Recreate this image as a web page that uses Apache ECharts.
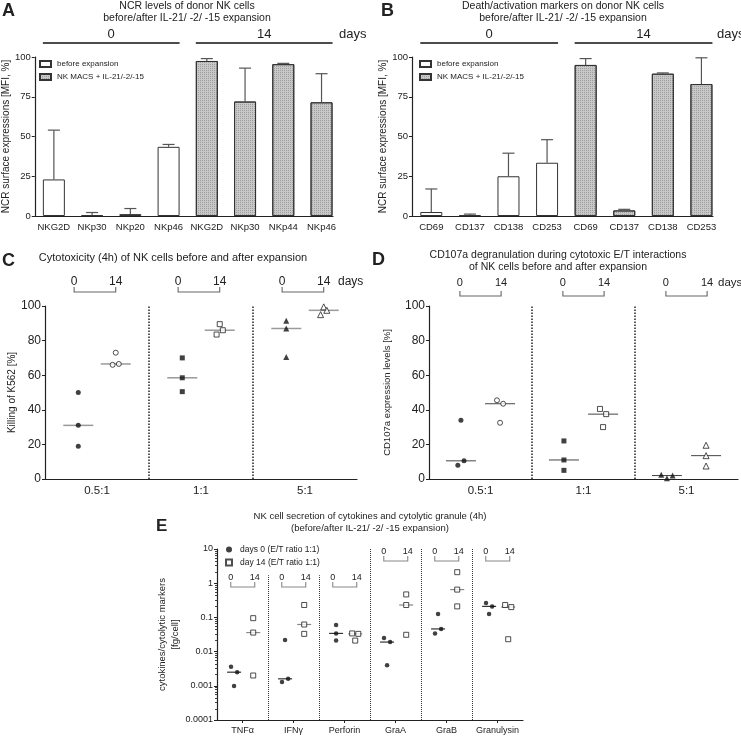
<!DOCTYPE html>
<html><head><meta charset="utf-8">
<script src="https://cdn.jsdelivr.net/npm/echarts@6/dist/echarts.min.js"></script>
<style>html,body{margin:0;padding:0;background:#fff}#c{width:741px;height:738px}</style>
</head><body><div id="c"></div>
<script>
// ---------- DATA ----------
const catsA = ['NKG2D','NKp30','NKp20','NKp46','NKG2D','NKp30','NKp44','NKp46'];
const aBefore = [23, 0.5, 1.2, 43.5];
const aBeforeErr = [54, 2.2, 4.7, 45];
const aAfter = [97.5, 72, 95.5, 71.5];
const aAfterErr = [99, 93, 96, 89.5];

const catsB = ['CD69','CD137','CD138','CD253','CD69','CD137','CD138','CD253'];
const bBefore = [2.5, 0.5, 25, 33.5];
const bBeforeErr = [17, 1.2, 39.5, 48];
const bAfter = [95, 3.5, 89.5, 83];
const bAfterErr = [99, 4.2, 90, 99.5];

const dayLabels = ['0', '14'];
const ratios = ['0.5:1', '1:1', '5:1'];
const cDay0  = [[50, 31, 19], [70, 58.5, 50.5], [91.5, 87, 70.5]];
const cDay14 = [[73, 66, 66.5], [89.5, 83.5, 86], [99.5, 95, 97.5]];
const dDay0  = [[34, 8, 10.5], [22, 11, 5], [2.5, 0.5, 2]];
const dDay14 = [[45.5, 43.5, 32.5], [40.5, 37.5, 30], [19.5, 13.5, 7.5]];

const markers = ['TNF\u03b1', 'IFN\u03b3', 'Perforin', 'GraA', 'GraB', 'Granulysin'];
const eDay0  = [[0.0036, 0.0025, 0.00098], [0.022, 0.0013, 0.0016], [0.06, 0.034, 0.021],
                [0.025, 0.019, 0.004], [0.126, 0.034, 0.046], [0.265, 0.21, 0.126]];
const eDay14 = [[0.095, 0.036, 0.002], [0.23, 0.062, 0.033], [0.034, 0.033, 0.021],
                [0.47, 0.23, 0.031], [2.1, 0.65, 0.21], [0.23, 0.2, 0.023]];
const eTicks = [0.0001, 0.001, 0.01, 0.1, 1, 10];

// ---------- LAYOUT (jitter / offsets in axis units) ----------
const cJit0  = [[0,0,0],[0,0,0],[0,0,0]];
const cJit14 = [[0,-0.03,0.03],[0,-0.03,0.03],[0,-0.03,0.03]];
const dJit0  = [[0,-0.03,0.03],[0,0,0],[-0.055,0,0.055]];
const dJit14 = [[-0.03,0.03,0],[-0.03,0.03,0],[0,0,0]];
const eJit0  = [[-0.06,0.06,0],[0,-0.06,0.06],[0,0,0],[-0.06,0.06,0],[0,-0.06,0.06],[-0.06,0.06,0]];
const eJit14 = [[0,0,0],[0,0,0],[-0.06,0.06,0],[0,0,0],[0,0,0],[-0.06,0.06,0]];
const eBracketDrop = [38, 38, 38, 12, 12, 12];
const eSepTop = [1.7, 1.7, 10, 10, 10];

const FONT = "'Liberation Sans', Arial, sans-serif";
const TXT = '#222';

function median(a) { const s = a.slice().sort((x, y) => x - y); return s[Math.floor(s.length / 2)]; }

function errSeries(ai, vals, errs, off) {
  return {
    type: 'custom', xAxisIndex: ai, yAxisIndex: ai, z: 4, silent: true,
    data: vals.map((v, i) => [i + off, v, errs[i]]),
    renderItem: (p, api) => {
      const a = api.coord([api.value(0), api.value(1)]);
      const b = api.coord([api.value(0), api.value(2)]);
      const st = { stroke: '#555', lineWidth: 1.2 };
      return { type: 'group', children: [
        { type: 'line', shape: { x1: a[0], y1: a[1], x2: b[0], y2: b[1] }, style: st },
        { type: 'line', shape: { x1: b[0] - 6, y1: b[1], x2: b[0] + 6, y2: b[1] }, style: st }
      ]};
    }
  };
}

function dayBarSeries(ai) {
  return {
    type: 'custom', xAxisIndex: ai, yAxisIndex: ai, silent: true,
    data: [[0, 3], [4, 7]],
    renderItem: (p, api) => {
      const a = api.coord([api.value(0), 100]);
      const b = api.coord([api.value(1), 100]);
      const y = a[1] - 14, x1 = a[0] - 11, x2 = b[0] + 11;
      return { type: 'group', children: [
        { type: 'line', shape: { x1: x1, y1: y, x2: x2, y2: y }, style: { stroke: '#111', lineWidth: 1.6 } },
        { type: 'text', x: (x1 + x2) / 2, y: y - 9,
          style: { text: dayLabels[p.dataIndex], fill: TXT, font: '13px ' + FONT,
                   align: 'center', verticalAlign: 'middle', textAlign: 'center', textVerticalAlign: 'middle' } }
      ]};
    }
  };
}

function bracketSeries(ai, n, yTop, l, r, drop, txtGap, fs, color) {
  return {
    type: 'custom', xAxisIndex: ai, yAxisIndex: ai, silent: true,
    data: Array.from({ length: n }, (_, i) => [i, yTop]),
    renderItem: (p, api) => {
      const i = api.value(0);
      const a = api.coord([i + l, api.value(1)]);
      const b = api.coord([i + r, api.value(1)]);
      const y = a[1] + drop(i);
      const st = { stroke: color, lineWidth: 1.1, fill: null };
      return { type: 'group', children: [
        { type: 'polyline', shape: { points: [[a[0], y - 5], [a[0], y], [b[0], y], [b[0], y - 5]] }, style: st },
        { type: 'text', x: a[0], y: y - txtGap,
          style: { text: dayLabels[0], fill: TXT, font: fs + 'px ' + FONT, align: 'center', verticalAlign: 'middle', textAlign: 'center', textVerticalAlign: 'middle' } },
        { type: 'text', x: b[0], y: y - txtGap,
          style: { text: dayLabels[1], fill: TXT, font: fs + 'px ' + FONT, align: 'center', verticalAlign: 'middle', textAlign: 'center', textVerticalAlign: 'middle' } }
      ]};
    }
  };
}

function medianSeries(ai, groups, off, half, color, w) {
  return {
    type: 'custom', xAxisIndex: ai, yAxisIndex: ai, silent: true, z: 2,
    data: groups.map((g, i) => [i + off, median(g)]),
    renderItem: (p, api) => {
      const c = api.coord([api.value(0), api.value(1)]);
      return { type: 'line', shape: { x1: c[0] - half, y1: c[1], x2: c[0] + half, y2: c[1] },
               style: { stroke: color, lineWidth: w } };
    }
  };
}

function pointSeries(ai, name, groups, jit, off, symbols, open, size, z) {
  const out = [];
  groups.forEach((g, i) => {
    out.push({
      type: 'scatter', name: name, xAxisIndex: ai, yAxisIndex: ai, z: z || 3,
      symbol: Array.isArray(symbols) ? symbols[i] : symbols,
      symbolSize: Array.isArray(size) ? size[i] : size,
      itemStyle: open ? { color: '#fff', borderColor: '#222', borderWidth: 1 } : { color: '#111' },
      data: g.map((v, j) => [i + off + jit[i][j], v])
    });
  });
  return out;
}

function catX(gi, cats, max, fs, tick) {
  return {
    gridIndex: gi, type: 'value', min: -0.5, max: max,
    axisLine: { show: true, onZero: false, lineStyle: { color: '#222', width: 1.2 } },
    axisTick: { show: !!tick, length: 3, customValues: cats.map((_, i) => i), lineStyle: { color: '#222' } },
    splitLine: { show: false },
    axisLabel: { customValues: cats.map((_, i) => i), formatter: v => cats[Math.round(v)],
                 fontSize: fs, color: TXT, fontFamily: FONT, margin: 6 }
  };
}

function valY(gi, interval, fs, name, gap, nfs) {
  return {
    gridIndex: gi, type: 'value', min: 0, max: 100, interval: interval,
    axisLine: { show: true, onZero: false, lineStyle: { color: '#222', width: 1.2 } },
    axisTick: { show: true, length: 3, lineStyle: { color: '#222' } },
    splitLine: { show: false },
    axisLabel: { fontSize: fs, color: TXT, fontFamily: FONT, margin: 4 },
    name: name, nameLocation: 'middle', nameGap: gap,
    nameTextStyle: { fontSize: nfs, color: TXT, fontFamily: FONT }
  };
}

const chart = echarts.init(document.getElementById('c'), null, { renderer: 'canvas' });

const hatch = { symbol: 'rect', symbolSize: 1, color: 'rgba(80,80,80,0.35)', dashArrayX: [1, 1], dashArrayY: [1, 1], rotation: 0 };

const series = [
  // A
  { type: 'bar', name: 'before expansion', xAxisIndex: 0, yAxisIndex: 0, barWidth: 22, barGap: '-100%',
    data: aBefore.map((v, i) => [i, v]), itemStyle: { color: '#fff', borderColor: '#333', borderWidth: 1 } },
  { type: 'bar', name: 'NK MACS + IL-21/-2/-15', xAxisIndex: 0, yAxisIndex: 0, barWidth: 22, barGap: '-100%',
    data: aAfter.map((v, i) => [i + 4, v]), itemStyle: { color: '#c8c8c8', borderColor: '#333', borderWidth: 1, decal: hatch } },
  errSeries(0, aBefore, aBeforeErr, 0),
  errSeries(0, aAfter, aAfterErr, 4),
  dayBarSeries(0),
  // B
  { type: 'bar', name: 'before expansion', xAxisIndex: 1, yAxisIndex: 1, barWidth: 22, barGap: '-100%',
    data: bBefore.map((v, i) => [i, v]), itemStyle: { color: '#fff', borderColor: '#333', borderWidth: 1 } },
  { type: 'bar', name: 'NK MACS + IL-21/-2/-15', xAxisIndex: 1, yAxisIndex: 1, barWidth: 22, barGap: '-100%',
    data: bAfter.map((v, i) => [i + 4, v]), itemStyle: { color: '#c8c8c8', borderColor: '#333', borderWidth: 1, decal: hatch } },
  errSeries(1, bBefore, bBeforeErr, 0),
  errSeries(1, bAfter, bAfterErr, 4),
  dayBarSeries(1),
  // C
  medianSeries(2, cDay0, -0.18, 15, '#999', 1.5),
  medianSeries(2, cDay14, 0.18, 15, '#999', 1.5),
  ...pointSeries(2, 'c0', cDay0, cJit0, -0.18, ['circle', 'rect', 'triangle'], false, [5, 5, 6]),
  ...pointSeries(2, 'c14', cDay14, cJit14, 0.18, ['circle', 'rect', 'triangle'], true, [5, 5, 6]),
  bracketSeries(2, 3, 100, -0.22, 0.18, () => -14, 10, 12, '#666'),
  // D
  medianSeries(3, dDay0, -0.19, 15, '#444', 1),
  medianSeries(3, dDay14, 0.19, 15, '#444', 1),
  ...pointSeries(3, 'd0', dDay0, dJit0, -0.19, ['circle', 'rect', 'triangle'], false, [5, 5, 6]),
  ...pointSeries(3, 'd14', dDay14, dJit14, 0.19, ['circle', 'rect', 'triangle'], true, [5, 5, 6]),
  bracketSeries(3, 3, 100, -0.2, 0.2, () => -10, 13, 11, '#666'),
  // E
  medianSeries(4, eDay0, -0.165, 7, '#333', 1.2),
  medianSeries(4, eDay14, 0.21, 7, '#888', 1.2),
  { type: 'scatter', name: 'days 0 (E/T ratio 1:1)', xAxisIndex: 4, yAxisIndex: 4, z: 3, symbol: 'circle', symbolSize: 4.5,
    itemStyle: { color: '#111' },
    data: eDay0.flatMap((g, i) => g.map((v, j) => [i - 0.165 + eJit0[i][j], v])) },
  { type: 'scatter', name: 'day 14 (E/T ratio 1:1)', xAxisIndex: 4, yAxisIndex: 4, z: 3, symbol: 'rect', symbolSize: 5,
    itemStyle: { color: '#fff', borderColor: '#222', borderWidth: 1 },
    data: eDay14.flatMap((g, i) => g.map((v, j) => [i + 0.21 + eJit14[i][j], v])),
    markLine: { silent: true, symbol: 'none', label: { show: false },
      lineStyle: { type: 'dotted', color: '#333', width: 1 },
      data: eSepTop.map((t, k) => [{ coord: [k + 0.5, 0.0001] }, { coord: [k + 0.5, t] }]) } },
  bracketSeries(4, 6, 10, -0.23, 0.24, i => eBracketDrop[i], 9, 9, '#888')
];

// dotted separators for C & D
series.push({ type: 'scatter', xAxisIndex: 2, yAxisIndex: 2, data: [], silent: true,
  markLine: { silent: true, symbol: 'none', label: { show: false }, animation: false,
    lineStyle: { type: 'dotted', color: '#222', width: 1.5 }, data: [{ xAxis: 0.5 }, { xAxis: 1.5 }] } });
series.push({ type: 'scatter', xAxisIndex: 3, yAxisIndex: 3, data: [], silent: true,
  markLine: { silent: true, symbol: 'none', label: { show: false }, animation: false,
    lineStyle: { type: 'dotted', color: '#222', width: 1.5 }, data: [{ xAxis: 0.5 }, { xAxis: 1.5 }] } });

function txt(x, y, text, size, opts) {
  opts = opts || {};
  return { type: 'text', x: x, y: y, silent: true,
    style: { text: text, fill: TXT, font: (opts.bold ? 'bold ' : '') + size + 'px ' + FONT,
             textAlign: opts.align || 'left', align: opts.align || 'left',
             textVerticalAlign: 'top', verticalAlign: 'top', lineHeight: opts.lh || size + 2 } };
}

const option = {
  animation: false,
  textStyle: { fontFamily: FONT },
  grid: [
    { left: 33, top: 57, width: 300, height: 159 },
    { left: 412, top: 57, width: 301, height: 159 },
    { left: 45, top: 306, width: 312, height: 173 },
    { left: 429, top: 306, width: 309, height: 173 },
    { left: 217, top: 549, width: 306, height: 171 }
  ],
  xAxis: [
    catX(0, catsA, 7.3, 9.5, false),
    catX(1, catsB, 7.3, 9.5, false),
    catX(2, ratios, 2.5, 11.5, false),
    catX(3, ratios, 2.5, 11.5, false),
    catX(4, markers, 5.5, 9, true)
  ],
  yAxis: [
    valY(0, 25, 9.5, 'NCR surface expressions [MFI, %]', 18, 10),
    valY(1, 25, 9.5, 'NCR surface expressions [MFI, %]', 23, 10),
    valY(2, 20, 12, 'Killing of K562 [%]', 24, 10),
    valY(3, 20, 12, 'CD107a expression levels [%]', 37, 9.5),
    {
      gridIndex: 4, type: 'log', logBase: 10, min: 0.0001, max: 10,
      axisLine: { show: true, onZero: false, lineStyle: { color: '#222', width: 1.2 } },
      axisTick: { show: true, length: 3, lineStyle: { color: '#222' } },
      minorTick: { show: true, splitNumber: 8, length: 2, lineStyle: { color: '#444' } },
      splitLine: { show: false },
      axisLabel: { customValues: eTicks, fontSize: 9, color: TXT, fontFamily: FONT, margin: 4,
        formatter: v => { const e = Math.round(Math.log10(v)); return e >= 0 ? String(Math.pow(10, e)) : '0.' + '0'.repeat(-e - 1) + '1'; } },
      name: 'cytokines/cytolytic markers\n[fg/cell]', nameLocation: 'middle', nameGap: 35,
      nameTextStyle: { fontSize: 9.5, color: TXT, fontFamily: FONT, lineHeight: 13 }
    }
  ],
  legend: [
    { left: 39, top: 60, padding: 0, orient: 'vertical', itemWidth: 11, itemHeight: 6, itemGap: 5, icon: 'rect',
      data: ['before expansion', 'NK MACS + IL-21/-2/-15'], selectedMode: false,
      textStyle: { fontSize: 8, color: TXT, fontFamily: FONT, padding: [0, 0, 0, 1] } },
    { left: 419, top: 60, padding: 0, orient: 'vertical', itemWidth: 11, itemHeight: 6, itemGap: 5, icon: 'rect',
      data: ['before expansion', 'NK MACS + IL-21/-2/-15'], selectedMode: false,
      textStyle: { fontSize: 8, color: TXT, fontFamily: FONT, padding: [0, 0, 0, 1] } },
    { left: 225, top: 545, padding: 0, orient: 'vertical', itemWidth: 6, itemHeight: 6, itemGap: 4,
      data: ['days 0 (E/T ratio 1:1)', 'day 14 (E/T ratio 1:1)'], selectedMode: false,
      textStyle: { fontSize: 8.5, color: TXT, fontFamily: FONT, padding: [0, 0, 0, 3] } }
  ],
  graphic: [
    txt(2, 1, 'A', 18, { bold: true }),
    txt(381, 1, 'B', 18, { bold: true }),
    txt(2, 251, 'C', 18, { bold: true }),
    txt(372, 250, 'D', 18, { bold: true }),
    txt(156, 517, 'E', 17, { bold: true }),
    txt(187, 0, 'NCR levels of donor NK cells\nbefore/after IL-21/ -2/ -15 expansion', 10.5, { align: 'center', lh: 12 }),
    txt(563, 0, 'Death/activation markers on donor NK cells\nbefore/after IL-21/ -2/ -15 expansion', 10.5, { align: 'center', lh: 12 }),
    txt(173, 251, 'Cytotoxicity (4h) of NK cells before and after expansion', 11, { align: 'center' }),
    txt(558, 249, 'CD107a degranulation during cytotoxic E/T interactions\nof NK cells before and after expansion', 10.5, { align: 'center', lh: 12 }),
    txt(370, 511, 'NK cell secretion of cytokines and cytolytic granule (4h)\n(before/after IL-21/ -2/ -15 expansion)', 9.5, { align: 'center', lh: 11.5 }),
    txt(339, 27, 'days', 13),
    txt(717, 27, 'days', 13),
    txt(338, 275, 'days', 12),
    txt(718, 276, 'days', 11.5)
  ],
  series: series
};
chart.setOption(option);
</script></body></html>
